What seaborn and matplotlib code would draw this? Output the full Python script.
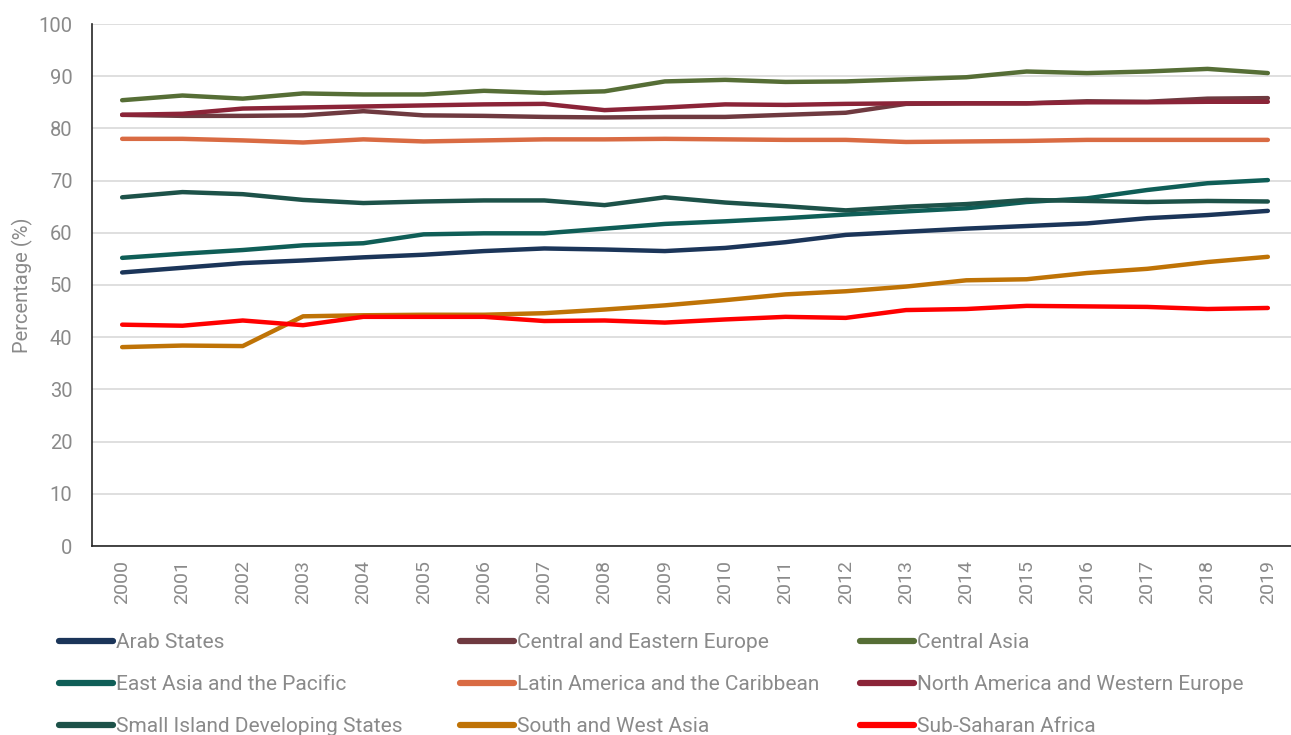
import numpy as np
import pandas as pd
import matplotlib
matplotlib.use('Agg')
import matplotlib.pyplot as plt
import seaborn as sns

# ------------------------------------------------------------
# Data
# ------------------------------------------------------------
years = [str(y) for y in range(2000, 2020)]

arab_states = [52.4, 53.3, 54.2, 54.7, 55.3, 55.8, 56.5, 57.0, 56.8, 56.5,
               57.1, 58.2, 59.6, 60.2, 60.8, 61.3, 61.8, 62.8, 63.4, 64.2]
central_eastern_europe = [82.6, 82.4, 82.4, 82.5, 83.3, 82.5, 82.4, 82.2, 82.1, 82.2,
                          82.2, 82.6, 83.0, 84.7, 84.8, 84.8, 85.2, 85.1, 85.7, 85.8]
central_asia = [85.4, 86.3, 85.7, 86.7, 86.5, 86.5, 87.2, 86.8, 87.1, 89.0,
                89.3, 88.9, 89.0, 89.4, 89.8, 90.9, 90.6, 90.9, 91.4, 90.6]
east_asia_pacific = [55.2, 56.0, 56.7, 57.6, 58.0, 59.7, 59.9, 59.9, 60.8, 61.7,
                     62.2, 62.8, 63.5, 64.1, 64.7, 65.9, 66.6, 68.2, 69.5, 70.1]
latin_america = [78.0, 78.0, 77.7, 77.3, 77.9, 77.5, 77.7, 77.9, 77.9, 78.0,
                 77.9, 77.8, 77.8, 77.4, 77.5, 77.6, 77.8, 77.8, 77.8, 77.8]
north_america_we = [82.6, 82.8, 83.8, 84.0, 84.2, 84.4, 84.6, 84.7, 83.5, 84.0,
                    84.6, 84.5, 84.7, 84.8, 84.8, 84.8, 85.0, 85.0, 85.1, 85.1]
small_island = [66.8, 67.8, 67.4, 66.3, 65.7, 66.0, 66.2, 66.2, 65.3, 66.8,
                65.8, 65.1, 64.3, 65.0, 65.5, 66.3, 66.1, 65.9, 66.1, 66.0]
south_west_asia = [38.1, 38.4, 38.3, 44.0, 44.2, 44.3, 44.3, 44.6, 45.3, 46.1,
                   47.1, 48.2, 48.8, 49.7, 50.9, 51.1, 52.3, 53.1, 54.4, 55.4]
sub_saharan_africa = [42.4, 42.2, 43.2, 42.3, 43.9, 43.9, 43.9, 43.1, 43.2, 42.8,
                      43.4, 43.9, 43.7, 45.2, 45.4, 46.0, 45.9, 45.8, 45.4, 45.6]

regions = ['Arab States', 'Central and Eastern Europe', 'Central Asia',
           'East Asia and the Pacific', 'Latin America and the Caribbean',
           'North America and Western Europe', 'Small Island Developing States',
           'South and West Asia', 'Sub-Saharan Africa']
series = [arab_states, central_eastern_europe, central_asia,
          east_asia_pacific, latin_america, north_america_we,
          small_island, south_west_asia, sub_saharan_africa]
colors = ['#1B3559', '#6F3A40', '#566E36',
          '#0F5E57', '#D96B43', '#8B2438',
          '#1D5249', '#BF7306', '#FF0000']

df = pd.DataFrame({
    'year': years * len(regions),
    'region': np.repeat(regions, len(years)),
    'value': np.concatenate(series),
})

# ------------------------------------------------------------
# Plot
# ------------------------------------------------------------
sns.set_theme(style='white')
plt.rcParams['font.family'] = ['Roboto', 'DejaVu Sans']
GREY = '#8A8A8A'

fig = plt.figure(figsize=(12.91, 7.35), dpi=100)
ax = fig.add_axes([92 / 1291, 1 - 546 / 735, 1206 / 1291, 522 / 735])

sns.lineplot(data=df, x='year', y='value', hue='region', hue_order=regions,
             palette=colors, linewidth=3.2, ax=ax, legend=False, sort=False,
             solid_capstyle='round')

ax.set_ylim(0, 100)
ax.set_xlim(-0.5, 19.5)
ax.set_yticks(range(0, 101, 10))
ax.yaxis.grid(True, color='#D9D9D9', linewidth=1.2)
ax.set_axisbelow(True)
ax.set_xlabel('')
ax.set_ylabel('Percentage (%)', fontsize=14.5, color=GREY, labelpad=4)

for side in ['top', 'right']:
    ax.spines[side].set_visible(False)
for side in ['left', 'bottom']:
    ax.spines[side].set_color('#262626')
    ax.spines[side].set_linewidth(1.2)

ax.tick_params(axis='x', labelrotation=90, labelsize=14, labelcolor=GREY,
               length=0, pad=10)
ax.tick_params(axis='y', labelsize=14.5, labelcolor=GREY, length=0, pad=14)

# Legend: three fixed columns, filled row-wise
col_x = [59, 460, 860]
for c in range(3):
    idx = [c, c + 3, c + 6]
    handles = [plt.Line2D([], [], color=colors[i], linewidth=4.5,
                          solid_capstyle='round') for i in idx]
    labels = [regions[i] for i in idx]
    leg = fig.legend(handles, labels, loc='upper left',
                     bbox_to_anchor=(col_x[c] / 1291, 1 - 633 / 735),
                     frameon=False, fontsize=15, handlelength=2.6,
                     handletextpad=0.12, labelspacing=1.1, borderaxespad=0,
                     borderpad=0)
    for t in leg.get_texts():
        t.set_color(GREY)

plt.savefig('out.png', dpi=100)
plt.close()
